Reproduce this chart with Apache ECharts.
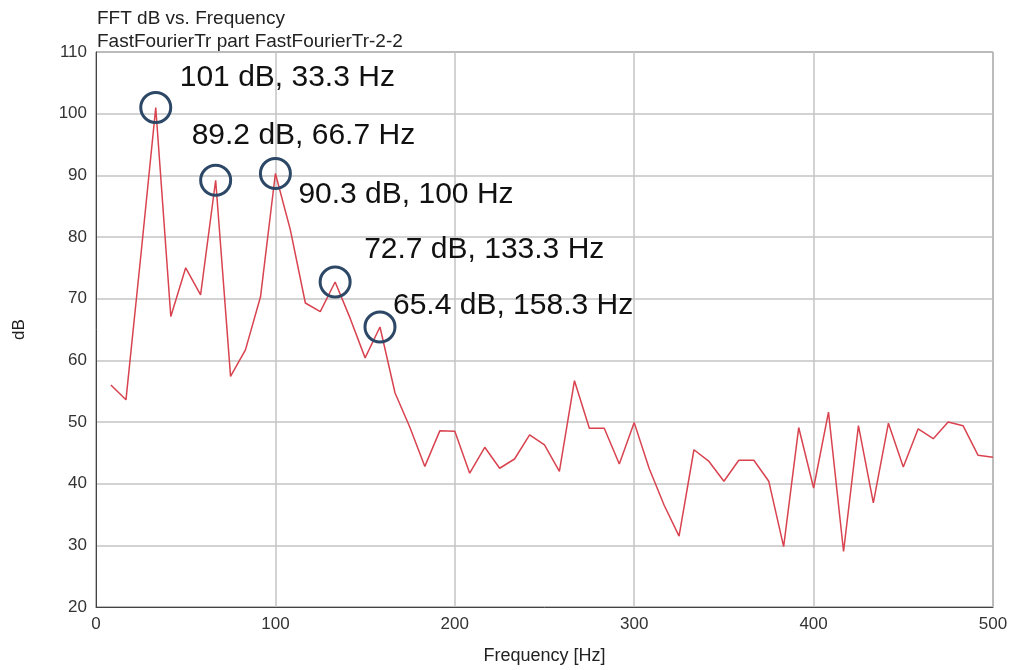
<!DOCTYPE html>
<html>
<head>
<meta charset="utf-8">
<script src="https://cdn.jsdelivr.net/npm/echarts@6/dist/echarts.min.js"></script>
<style>
  html, body { margin: 0; padding: 0; background: #fff; }
  #chart { width: 1013px; height: 670px; }
</style>
</head>
<body>
<div id="chart"></div>
<script>
// FFT bins (Hz) and magnitudes (dB)
const freqs = [8.3, 16.7, 25, 33.3, 41.7, 50, 58.3, 66.7, 75, 83.3,
    91.7, 100, 108.3, 116.7, 125, 133.3, 141.7, 150, 158.3, 166.7,
    175, 183.3, 191.7, 200, 208.3, 216.7, 225, 233.3, 241.7, 250,
    258.3, 266.7, 275, 283.3, 291.7, 300, 308.3, 316.7, 325, 333.3,
    341.7, 350, 358.3, 366.7, 375, 383.3, 391.7, 400, 408.3, 416.7,
    425, 433.3, 441.7, 450, 458.3, 466.7, 475, 483.3, 491.7, 500];
const dbs = [56.0, 53.6, 77, 101, 67.1, 75.0, 70.6, 89.2, 57.4, 61.7,
    70.3, 90.3, 81.2, 69.3, 67.9, 72.7, 66.8, 60.4, 65.4, 54.7,
    49.1, 42.8, 48.6, 48.5, 41.7, 45.9, 42.5, 44.0, 47.9, 46.3,
    42.0, 56.7, 49.0, 49.0, 43.2, 49.9, 42.5, 36.5, 31.5, 45.5,
    43.6, 40.4, 43.8, 43.8, 40.4, 29.8, 49.1, 39.3, 51.6, 29.0,
    49.4, 36.9, 49.8, 42.7, 48.9, 47.3, 50.0, 49.4, 44.6, 44.3];

// peaks that get a circle + label
const peakFreqs = [33.3, 66.7, 100, 133.3, 158.3];
const peakDbs = [101, 89.2, 90.3, 72.7, 65.4];
const peakTexts = ['101 dB, 33.3 Hz', '89.2 dB, 66.7 Hz', '90.3 dB, 100 Hz',
    '72.7 dB, 133.3 Hz', '65.4 dB, 158.3 Hz'];
// label offset from the circle centre, px
const peakLabelOffsets = [[24, -30], [-24, -45], [23, 21], [29, -32], [13, -21]];

const chart = echarts.init(document.getElementById('chart'));

const FONT = '"Liberation Sans", Arial, sans-serif';

const option = {
    animation: false,
    title: {
        text: 'FFT dB vs. Frequency\nFastFourierTr part FastFourierTr-2-2',
        left: 92,
        top: 2,
        textStyle: {
            fontFamily: FONT,
            fontSize: 19,
            fontWeight: 'normal',
            color: '#222',
            lineHeight: 23
        }
    },
    grid: {
        left: 96,
        right: 20,
        top: 52,
        bottom: 63,
        show: true,
        borderColor: '#444',
        borderWidth: 1,
        backgroundColor: '#fff'
    },
    xAxis: {
        type: 'value',
        min: 0,
        max: 500,
        interval: 100,
        name: 'Frequency [Hz]',
        nameLocation: 'middle',
        nameGap: 40,
        nameTextStyle: { fontFamily: FONT, fontSize: 18, color: '#222' },
        axisLine: { show: true, lineStyle: { color: '#444' } },
        axisTick: { show: false },
        axisLabel: { fontFamily: FONT, fontSize: 17, color: '#333', margin: 9 },
        splitLine: { show: true, lineStyle: { color: '#c4c4c4', width: 1.5 } }
    },
    yAxis: {
        type: 'value',
        min: 20,
        max: 110,
        interval: 10,
        name: 'dB',
        nameLocation: 'middle',
        nameGap: 68,
        nameTextStyle: { fontFamily: FONT, fontSize: 17, color: '#222' },
        axisLine: { show: true, lineStyle: { color: '#444' } },
        axisTick: { show: false },
        axisLabel: { fontFamily: FONT, fontSize: 17, color: '#333', margin: 9 },
        splitLine: { show: true, lineStyle: { color: '#c4c4c4', width: 1.5 } }
    },
    series: [
        {
            type: 'line',
            data: freqs.map((f, i) => [f, dbs[i]]),
            showSymbol: false,
            lineStyle: { color: '#d8434f', width: 1.5 },
            markPoint: {
                symbol: 'circle',
                symbolSize: 30,
                itemStyle: {
                    color: 'rgba(0,0,0,0)',
                    borderColor: '#2c4866',
                    borderWidth: 3
                },
                label: {
                    show: true,
                    position: 'inside',
                    align: 'left',
                    verticalAlign: 'middle',
                    fontFamily: FONT,
                    fontSize: 30,
                    color: '#111'
                },
                data: peakFreqs.map((f, i) => ({
                    coord: [f, peakDbs[i]],
                    value: peakTexts[i],
                    label: { formatter: peakTexts[i], offset: peakLabelOffsets[i] }
                }))
            }
        }
    ]
};

chart.setOption(option);
</script>
</body>
</html>
